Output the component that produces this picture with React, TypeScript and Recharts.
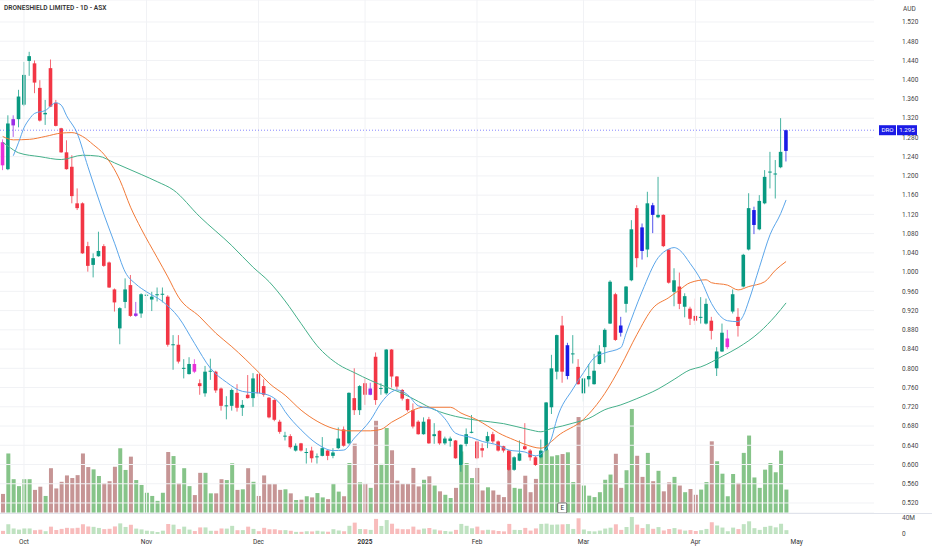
import React from "react";
import {
  ComposedChart,
  Bar,
  Line,
  XAxis,
  YAxis,
  CartesianGrid,
  ReferenceLine,
  ReferenceDot,
  Cell,
} from "recharts";

// daily candles, [open, high, low, close]
const ohlc: number[][] = [
  [1.27, 1.276, 1.212, 1.222], [1.214, 1.326, 1.212, 1.309], [1.305, 1.326, 1.281, 1.318], [1.318, 1.379, 1.301, 1.365],
  [1.348, 1.437, 1.345, 1.41], [1.439, 1.458, 1.408, 1.449], [1.434, 1.44, 1.372, 1.394], [1.383, 1.399, 1.313, 1.315],
  [1.328, 1.358, 1.306, 1.331], [1.424, 1.442, 1.343, 1.344], [1.352, 1.358, 1.303, 1.304], [1.299, 1.3, 1.248, 1.249],
  [1.249, 1.274, 1.213, 1.214], [1.219, 1.243, 1.143, 1.158], [1.143, 1.174, 1.129, 1.133], [1.143, 1.145, 1.038, 1.039],
  [1.054, 1.063, 1.001, 1.013], [1.015, 1.039, 0.989, 1.029], [1.033, 1.084, 1.032, 1.044], [1.054, 1.058, 1.011, 1.013],
  [1.02, 1.022, 0.967, 0.968], [0.964, 0.966, 0.918, 0.937], [0.883, 0.927, 0.85, 0.925], [0.938, 0.987, 0.925, 0.964],
  [0.973, 0.994, 0.907, 0.909], [0.909, 0.938, 0.907, 0.914], [0.914, 0.956, 0.905, 0.954], [0.952, 0.963, 0.937, 0.953],
  [0.943, 0.959, 0.919, 0.949], [0.953, 0.968, 0.939, 0.954], [0.954, 0.968, 0.937, 0.955], [0.949, 0.952, 0.845, 0.849],
  [0.848, 0.869, 0.797, 0.85], [0.849, 0.869, 0.81, 0.814], [0.8, 0.819, 0.779, 0.801], [0.788, 0.823, 0.787, 0.809],
  [0.809, 0.819, 0.79, 0.793], [0.769, 0.777, 0.745, 0.763], [0.748, 0.805, 0.741, 0.793], [0.794, 0.82, 0.776, 0.795],
  [0.793, 0.795, 0.749, 0.754], [0.758, 0.76, 0.712, 0.722], [0.721, 0.742, 0.694, 0.723], [0.722, 0.758, 0.712, 0.755],
  [0.749, 0.767, 0.71, 0.718], [0.718, 0.734, 0.701, 0.724], [0.745, 0.786, 0.737, 0.738], [0.738, 0.79, 0.72, 0.779],
  [0.788, 0.79, 0.741, 0.748], [0.763, 0.777, 0.741, 0.745], [0.739, 0.74, 0.696, 0.698], [0.734, 0.736, 0.69, 0.693],
  [0.689, 0.693, 0.664, 0.668], [0.659, 0.668, 0.65, 0.66], [0.659, 0.663, 0.633, 0.636], [0.629, 0.644, 0.627, 0.639],
  [0.644, 0.645, 0.627, 0.629], [0.625, 0.634, 0.602, 0.626], [0.629, 0.637, 0.604, 0.613], [0.616, 0.623, 0.602, 0.617],
  [0.618, 0.657, 0.617, 0.634], [0.629, 0.63, 0.609, 0.618], [0.618, 0.634, 0.613, 0.625], [0.634, 0.677, 0.632, 0.654],
  [0.673, 0.679, 0.637, 0.639], [0.644, 0.75, 0.642, 0.749], [0.738, 0.8, 0.703, 0.713], [0.713, 0.765, 0.703, 0.763],
  [0.769, 0.779, 0.724, 0.745], [0.745, 0.77, 0.744, 0.758], [0.824, 0.833, 0.724, 0.734], [0.757, 0.769, 0.745, 0.759],
  [0.748, 0.84, 0.745, 0.839], [0.839, 0.84, 0.76, 0.783], [0.783, 0.784, 0.756, 0.762], [0.755, 0.757, 0.733, 0.737],
  [0.736, 0.737, 0.71, 0.713], [0.713, 0.727, 0.675, 0.679], [0.689, 0.692, 0.662, 0.663], [0.663, 0.698, 0.662, 0.689],
  [0.694, 0.699, 0.643, 0.644], [0.659, 0.686, 0.643, 0.663], [0.67, 0.671, 0.641, 0.644], [0.644, 0.658, 0.641, 0.654],
  [0.649, 0.658, 0.637, 0.654], [0.65, 0.651, 0.612, 0.613], [0.599, 0.642, 0.585, 0.641], [0.643, 0.675, 0.638, 0.663],
  [0.667, 0.703, 0.665, 0.668], [0.648, 0.65, 0.611, 0.613], [0.634, 0.644, 0.615, 0.629], [0.648, 0.668, 0.634, 0.659],
  [0.663, 0.668, 0.644, 0.648], [0.648, 0.65, 0.627, 0.629], [0.638, 0.639, 0.625, 0.629], [0.629, 0.63, 0.587, 0.589],
  [0.589, 0.617, 0.587, 0.615], [0.608, 0.65, 0.607, 0.623], [0.638, 0.686, 0.63, 0.632], [0.629, 0.632, 0.608, 0.615],
  [0.615, 0.618, 0.597, 0.599], [0.615, 0.652, 0.613, 0.629], [0.63, 0.73, 0.628, 0.729], [0.719, 0.828, 0.705, 0.8],
  [0.793, 0.87, 0.777, 0.869], [0.889, 0.909, 0.77, 0.793], [0.784, 0.853, 0.777, 0.848], [0.83, 0.869, 0.81, 0.831],
  [0.803, 0.819, 0.766, 0.767], [0.748, 0.781, 0.731, 0.779], [0.777, 0.809, 0.762, 0.784], [0.767, 0.83, 0.766, 0.795],
  [0.809, 0.848, 0.808, 0.835], [0.844, 0.883, 0.812, 0.88], [0.893, 0.983, 0.892, 0.98], [0.954, 0.957, 0.857, 0.859],
  [0.889, 0.907, 0.866, 0.874], [0.934, 0.971, 0.916, 0.97], [0.983, 1.108, 0.981, 1.089], [1.133, 1.139, 1.01, 1.029],
  [1.093, 1.101, 1.026, 1.044], [1.047, 1.167, 1.031, 1.143], [1.139, 1.144, 1.081, 1.119], [1.114, 1.198, 1.112, 1.119],
  [1.119, 1.12, 1.052, 1.054], [1.047, 1.048, 0.976, 0.978], [0.959, 1.008, 0.929, 0.983], [0.97, 0.999, 0.923, 0.934],
  [0.928, 0.956, 0.906, 0.95], [0.924, 0.928, 0.89, 0.903], [0.909, 0.945, 0.89, 0.899], [0.906, 0.948, 0.893, 0.907],
  [0.893, 0.945, 0.891, 0.934], [0.899, 0.907, 0.86, 0.878], [0.8, 0.844, 0.784, 0.835], [0.835, 0.893, 0.834, 0.874],
  [0.844, 0.88, 0.84, 0.862], [0.918, 0.964, 0.914, 0.954], [0.907, 0.925, 0.866, 0.888], [0.97, 1.038, 0.968, 1.036],
  [1.047, 1.164, 1.045, 1.133], [1.098, 1.136, 1.079, 1.129], [1.089, 1.16, 1.087, 1.148], [1.143, 1.212, 1.141, 1.198],
  [1.208, 1.25, 1.174, 1.209], [1.204, 1.233, 1.153, 1.205], [1.218, 1.32, 1.216, 1.25], [1.252, 1.296, 1.23, 1.295],
];

// volume in millions of shares
const volume = [
  6.6, 20.6, 11.7, 9.3, 11.7, 11.7, 8.0, 9.1, 5.9, 15.5,
  8.5, 10.8, 13.0, 12.1, 13.1, 20.6, 15.9, 15.1, 12.8, 10.3,
  11.0, 16.0, 22.4, 14.9, 19.5, 11.4, 9.7, 7.0, 5.9, 4.2,
  7.0, 21.1, 19.7, 10.3, 15.5, 9.3, 6.2, 13.9, 13.9, 6.8,
  6.8, 11.7, 11.4, 17.2, 8.0, 8.2, 15.5, 10.8, 5.9, 13.0,
  10.0, 10.0, 8.0, 8.2, 6.8, 4.5, 4.6, 5.8, 5.4, 6.9,
  5.4, 4.8, 10.1, 7.4, 5.8, 17.3, 24.0, 10.6, 10.1, 8.7,
  31.9, 17.0, 29.4, 21.7, 11.2, 10.1, 10.1, 15.6, 9.2, 11.5,
  12.7, 9.5, 7.5, 6.3, 5.2, 8.7, 21.3, 17.3, 12.1, 15.6,
  7.8, 8.9, 7.8, 6.3, 5.5, 21.3, 8.7, 8.4, 12.9, 7.2,
  11.8, 21.3, 21.9, 19.6, 20.0, 20.4, 21.0, 10.7, 33.2, 9.5,
  6.0, 5.5, 7.2, 11.5, 13.3, 20.5, 8.7, 14.8, 36.0, 19.8,
  12.5, 20.8, 11.0, 14.6, 7.5, 10.6, 12.5, 9.5, 7.2, 8.3,
  6.3, 8.1, 10.7, 24.8, 17.9, 13.6, 5.8, 13.5, 10.4, 20.8,
  26.8, 12.3, 8.7, 15.0, 17.3, 14.1, 21.6, 8.1,
];

// moving averages: [bar index, value]
const maFast = [
  [2, 1.242], [3, 1.27], [4, 1.3], [5, 1.318], [6, 1.33], [8, 1.336], [10, 1.352], [11, 1.347],
  [12, 1.325], [14, 1.288], [16, 1.219], [19, 1.12], [21, 1.06], [23, 1.0], [25, 0.975],
  [27, 0.959], [30, 0.939], [33, 0.906], [36, 0.852], [39, 0.8], [42, 0.771], [45, 0.752],
  [49, 0.747], [52, 0.727], [53, 0.71], [56, 0.672], [59, 0.643], [62, 0.629], [64, 0.63],
  [66, 0.655], [69, 0.692], [71, 0.728], [73, 0.751], [74, 0.755], [76, 0.745], [78, 0.722],
  [81, 0.715], [83, 0.695], [85, 0.665], [88, 0.656], [90, 0.648], [93, 0.64], [95, 0.63],
  [98, 0.626], [100, 0.618], [101, 0.622], [103, 0.655], [104, 0.695], [107, 0.757], [109, 0.791],
  [111, 0.822], [113, 0.832], [116, 0.843], [117, 0.873], [120, 0.96], [123, 1.03], [125, 1.048],
  [126, 1.051], [127, 1.046], [129, 1.018], [131, 0.984], [133, 0.935], [135, 0.905], [136, 0.899],
  [138, 0.897], [139, 0.91], [140, 0.94], [142, 1.01], [144, 1.078], [146, 1.122], [147, 1.15],
];
const maMid = [
  [0, 1.282], [2, 1.275], [5, 1.276], [8, 1.282], [11, 1.289], [13, 1.29], [15, 1.282],
  [17, 1.265], [19, 1.245], [22, 1.191], [24, 1.135], [26, 1.09], [29, 1.03], [31, 0.99],
  [33, 0.948], [37, 0.907], [40, 0.873], [43, 0.845], [48, 0.792], [50, 0.769], [53, 0.744],
  [56, 0.713], [59, 0.69], [62, 0.675], [65, 0.67], [69, 0.67], [71, 0.673], [73, 0.688],
  [75, 0.7], [77, 0.713], [79, 0.719], [84, 0.719], [86, 0.707], [89, 0.693], [91, 0.68],
  [93, 0.666], [96, 0.651], [98, 0.642], [101, 0.634], [103, 0.648], [104, 0.658], [109, 0.694],
  [113, 0.748], [116, 0.805], [119, 0.87], [122, 0.925], [125, 0.947], [127, 0.963], [129, 0.978],
  [132, 0.984], [133, 0.978], [136, 0.973], [138, 0.963], [140, 0.97], [143, 0.98], [145, 1.004],
  [147, 1.022],
];
const maSlow = [
  [0, 1.27], [1, 1.262], [3, 1.248], [7, 1.24], [11, 1.234], [15, 1.243], [18, 1.241],
  [21, 1.227], [26, 1.203], [29, 1.188], [32, 1.171], [37, 1.115], [43, 1.055], [47, 1.01],
  [50, 0.98], [53, 0.94], [56, 0.893], [59, 0.847], [63, 0.808], [66, 0.791], [69, 0.775],
  [72, 0.761], [75, 0.748], [78, 0.731], [81, 0.714], [85, 0.7], [89, 0.692], [94, 0.685],
  [99, 0.672], [101, 0.668], [103, 0.675], [105, 0.68], [107, 0.686], [110, 0.696], [113, 0.714],
  [116, 0.724], [119, 0.737], [123, 0.757], [126, 0.777], [129, 0.797], [131, 0.803], [135, 0.825],
  [138, 0.843], [142, 0.875], [145, 0.909], [147, 0.936],
];

const monthTicks = [4, 27, 48, 68, 89, 109, 130, 149];
const monthLabels = ["Oct", "Nov", "Dec", "2025", "Feb", "Mar", "Apr", "May"];
const priceTicks = [
  0.52, 0.56, 0.6, 0.64, 0.68, 0.72, 0.76, 0.8, 0.84, 0.88, 0.92, 0.96, 1.0,
  1.04, 1.08, 1.12, 1.16, 1.2, 1.24, 1.28, 1.32, 1.36, 1.4, 1.44, 1.48, 1.52,
];
const lastPrice = 1.295;
const earningsBar = 105;

// bar colouring flags from the chart's highlight indicator
const MAGENTA = "#e830d8";
const PURPLE = "#9a2ee6";
const BLUE = "#1b1be6";
const highlight: Record<number, string> = {
  0: MAGENTA, 2: PURPLE, 25: PURPLE, 36: MAGENTA, 69: PURPLE, 106: BLUE, 116: BLUE,
  120: BLUE, 122: BLUE, 136: MAGENTA, 141: BLUE, 147: BLUE,
};

const TOTAL = 164; // candles plus empty space on the right
const UP = "#089981";
const DOWN = "#f23645";
const VOL_UP = "#86c489";
const VOL_DOWN = "#c69595";
const FONT = "Roboto, 'Noto Sans', sans-serif";

const rows: any[] = Array.from({ length: TOTAL }, (_, i) => {
  const row: any = { i };
  const c = ohlc[i];
  if (c) {
    row.o = c[0];
    row.h = c[1];
    row.l = c[2];
    row.c = c[3];
    row.range = [c[2], c[1]];
    row.vol = volume[i];
    row.up = c[3] >= c[0];
  }
  return row;
});
maFast.forEach(([i, v]) => (rows[i].fast = v));
maMid.forEach(([i, v]) => (rows[i].mid = v));
maSlow.forEach(([i, v]) => (rows[i].slow = v));

const Candle = (props: any) => {
  const { x, y, width, height, payload } = props;
  if (!payload || payload.o == null) return <g />;
  const top = Math.min(y, y + height);
  const h = Math.abs(height);
  const span = payload.h - payload.l || 1;
  const py = (v: number) => top + ((payload.h - v) / span) * h;
  const color = highlight[payload.i] ?? (payload.up ? UP : DOWN);
  const cx = x + width / 2;
  const bTop = py(Math.max(payload.o, payload.c));
  const bBot = py(Math.min(payload.o, payload.c));
  return (
    <g>
      <line x1={cx} x2={cx} y1={top} y2={top + h} stroke={color} strokeOpacity={0.75} strokeWidth={1} />
      <rect x={cx - 1.8} y={bTop} width={3.6} height={Math.max(1, bBot - bTop)} fill={color} />
    </g>
  );
};

const PriceTick = (props: any) => {
  const { y, payload } = props;
  return (
    <text x={902} y={y} dy={2.3} fontSize={6.5} fill="#444" fontFamily={FONT}>
      {payload.value.toFixed(3)}
    </text>
  );
};

const PriceTag = (props: any) => {
  const vb = props.viewBox;
  const y = vb.y;
  const x = vb.x + vb.width;
  return (
    <g fontFamily={FONT} fontSize={6.2}>
      <rect x={x + 5} y={y - 5} width={17} height={10} fill={BLUE} />
      <text x={x + 13.5} y={y + 2.2} textAnchor="middle" fill="#fff">DRO</text>
      <rect x={x + 23} y={y - 5} width={20} height={10} fill={BLUE} />
      <text x={x + 33} y={y + 2.2} textAnchor="middle" fill="#fff">{lastPrice.toFixed(3)}</text>
    </g>
  );
};

const EarningsMark = (props: any) => {
  const { cx, cy } = props;
  return (
    <g>
      <rect x={cx - 4.5} y={cy - 5} width={9} height={10} rx={1} fill="#fff" stroke="#555" strokeWidth={0.8} />
      <text x={cx} y={cy + 2.3} textAnchor="middle" fontSize={6.5} fill="#333" fontFamily={FONT}>E</text>
    </g>
  );
};

const MonthTick = (props: any) => {
  const { x, y, payload } = props;
  const k = monthTicks.indexOf(payload.value);
  const label = monthLabels[k] ?? "";
  return (
    <text x={x} y={y + 1.5} textAnchor="middle" fontSize={6.5} fill="#333" fontFamily={FONT}
      fontWeight={label === "2025" ? 700 : 400}>
      {label}
    </text>
  );
};

const PaneTick = (props: any) => {
  const { y, payload } = props;
  return (
    <text x={902} y={y} dy={payload.value === 0 ? 2.3 : 4.5} fontSize={6.5} fill="#444" fontFamily={FONT}>
      {payload.value === 0 ? "0" : `${payload.value}M`}
    </text>
  );
};

export default function App() {
  return (
    <div style={{ position: "absolute", left: 0, top: 0, width: 932, height: 550, background: "#fff", overflow: "hidden" }}>
      {/* volume overlay, drawn behind the candles */}
      <div style={{ position: "absolute", left: 0, top: 0 }}>
        <ComposedChart width={932} height={513} data={rows} margin={{ top: 0, right: 58, left: 0, bottom: 0 }}>
          <XAxis dataKey="i" type="category" hide />
          <YAxis hide domain={[0, 177.5]} />
          <Bar dataKey="vol" barSize={4} isAnimationActive={false}>
            {rows.map((r) => (
              <Cell key={r.i} fill={r.up ? VOL_UP : VOL_DOWN} />
            ))}
          </Bar>
        </ComposedChart>
      </div>

      {/* price pane */}
      <div style={{ position: "absolute", left: 0, top: 0 }}>
        <ComposedChart width={932} height={513} data={rows} margin={{ top: 0, right: 0, left: 0, bottom: 0 }}>
          <CartesianGrid vertical={false} stroke="#f1f2f5" />
          <XAxis dataKey="i" type="category" hide />
          <YAxis
            orientation="right"
            width={58}
            domain={[0.4992, 1.5657]}
            allowDataOverflow
            ticks={priceTicks}
            interval={0}
            axisLine={false}
            tickLine={false}
            tick={<PriceTick />}
          />
          {monthTicks.slice(0, 7).map((m) => (
            <ReferenceLine key={m} x={m} stroke="#f1f2f5" />
          ))}
          <Line dataKey="slow" type="monotone" stroke="#45b08a" strokeWidth={1} dot={false} activeDot={false} connectNulls isAnimationActive={false} />
          <Line dataKey="mid" type="monotone" stroke="#f27a38" strokeWidth={1} dot={false} activeDot={false} connectNulls isAnimationActive={false} />
          <Line dataKey="fast" type="monotone" stroke="#5ba6ea" strokeWidth={1} dot={false} activeDot={false} connectNulls isAnimationActive={false} />
          <Bar dataKey="range" shape={(p: any) => <Candle {...p} />} activeBar={false} isAnimationActive={false} />
          <ReferenceLine y={lastPrice} stroke="#3b3bff" strokeOpacity={0.6} strokeDasharray="1 2" label={<PriceTag />} />
          <ReferenceDot x={earningsBar} y={0.5096} shape={(p: any) => <EarningsMark {...p} />} />
        </ComposedChart>
      </div>

      <div style={{ position: "absolute", left: 4, top: 4, fontFamily: FONT, fontSize: 6.6, fontWeight: 600, color: "#333", lineHeight: "9px" }}>
        DRONESHIELD LIMITED - 1D - ASX
      </div>
      <div style={{ position: "absolute", left: 903, top: 5, fontFamily: FONT, fontSize: 6.5, color: "#444", lineHeight: "8px" }}>
        AUD
      </div>

      <div style={{ position: "absolute", left: 0, top: 513, width: 932, height: 1, background: "#e0e3eb" }} />

      {/* lower volume pane with date axis */}
      <div style={{ position: "absolute", left: 0, top: 514 }}>
        <ComposedChart width={932} height={36} data={rows} margin={{ top: 0, right: 0, left: 0, bottom: 0 }}>
          <XAxis
            dataKey="i"
            type="category"
            ticks={monthTicks}
            interval={0}
            height={16}
            axisLine={false}
            tickLine={false}
            tick={<MonthTick />}
          />
          <YAxis
            orientation="right"
            width={58}
            domain={[0, 42.2]}
            ticks={[0, 40]}
            interval={0}
            axisLine={false}
            tickLine={false}
            tick={<PaneTick />}
          />
          <Bar dataKey="vol" barSize={4} activeBar={false} isAnimationActive={false}>
            {rows.map((r) => (
              <Cell key={r.i} fill={r.up ? "#bfe2c1" : "#f8bcbc"} />
            ))}
          </Bar>
        </ComposedChart>
      </div>
    </div>
  );
}
